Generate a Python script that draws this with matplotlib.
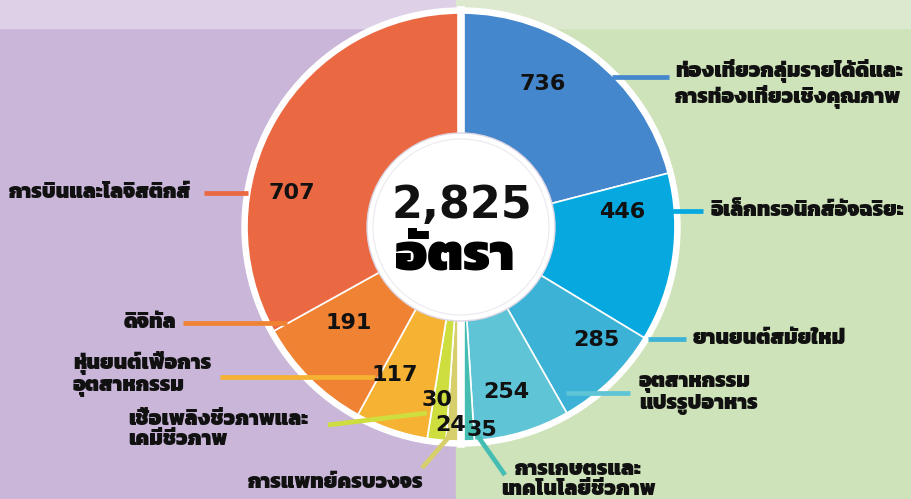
import matplotlib
matplotlib.use('Agg')
import matplotlib.pyplot as plt
from matplotlib.patches import Circle, Rectangle

plt.rcParams['font.family'] = ['Kanit', 'DejaVu Sans']

# data: right half (clockwise from 12 o'clock), then left half
right_labels = ['ท่องเที่ยวกลุ่มรายได้ดีและ\nการท่องเที่ยวเชิงคุณภาพ', 'อิเล็กทรอนิกส์อัจฉริยะ',
                'ยานยนต์สมัยใหม่', 'อุตสาหกรรม\nแปรรูปอาหาร', 'การเกษตรและ\nเทคโนโลยีชีวภาพ']
right_values = [736, 446, 285, 254, 35]
right_colors = ['#4487cc', '#05a9e0', '#3cb3d6', '#5ec4d6', '#45bdb3']

left_labels = ['การแพทย์ครบวงจร', 'เชื้อเพลิงชีวภาพและ\nเคมีชีวภาพ', 'หุ่นยนต์เพื่อการ\nอุตสาหกรรม',
               'ดิจิทัล', 'การบินและโลจิสติกส์']
left_values = [24, 30, 117, 191, 707]
left_colors = ['#d6cf6c', '#cede3e', '#f5b233', '#f08233', '#eb6942']

total = sum(right_values) + sum(left_values)
center_unit = 'อัตรา'

W, H = 912, 499
CX, CY = 461, 227
R_OUT, R_IN = 214, 93

# each half of the ring is scaled on its own
weights = [v / sum(right_values) for v in right_values] + [v / sum(left_values) for v in left_values]
colors = right_colors + left_colors

fig = plt.figure(figsize=(W / 100, H / 100), dpi=100)
ax = fig.add_axes([0, 0, 1, 1])

# background
ax.add_patch(Rectangle((0, 0), 456, H, color='#c9b6d9', zorder=0))
ax.add_patch(Rectangle((456, 0), W - 456, H, color='#cee3b9', zorder=0))
ax.add_patch(Rectangle((0, 0), 456, 28, color='#ddd0e7', zorder=0))
ax.add_patch(Rectangle((456, 0), W - 456, 28, color='#dde9cf', zorder=0))

ax.add_patch(Circle((CX, CY), R_OUT + 5, color='white', zorder=1))
# y axis is inverted below, so counterclock=True runs clockwise on screen
ax.pie(weights, colors=colors, center=(CX, CY), radius=R_OUT, startangle=-90, counterclock=True,
       wedgeprops=dict(width=R_OUT - R_IN, edgecolor='white', linewidth=1.2))
ax.plot([CX, CX], [CY - R_OUT - 3, CY + R_OUT + 3], color='white', lw=5.5, zorder=3)
ax.add_patch(Circle((CX, CY), R_IN + 1, facecolor='white', edgecolor='#dcd6e4', lw=1, zorder=4))
ax.add_patch(Circle((CX, CY), R_IN - 5, facecolor='white', edgecolor='#ece8f0', lw=0.8, zorder=4))

num_font = dict(family='DejaVu Sans', fontweight='bold', color='#111111')
ax.text(CX + 1, 205, f'{total:,}', ha='center', va='center', fontsize=32, zorder=5, **num_font)
ax.text(CX - 6, 257, center_unit, ha='center', va='center', fontsize=38, fontweight=900,
        color='black', zorder=5)

# layout: number position, leader line, label anchor
right_layout = [
    dict(num=(543, 84), line=[(612, 77), (669, 77)], lab=(675, 84), ha='left'),
    dict(num=(622, 212), line=[(656, 211), (703, 211)], lab=(711, 211), ha='left'),
    dict(num=(596, 340), line=[(648, 339), (686, 339)], lab=(693, 339), ha='left'),
    dict(num=(506, 392), line=[(566, 393), (630, 393)], lab=(639, 395), ha='left'),
    dict(num=(482, 430), line=[(470, 425), (505, 475)], lab=(578, 480), ha='center'),
]
left_layout = [
    dict(num=(451, 425), line=[(453, 420), (448, 438), (422, 468)], lab=(336, 483), ha='center'),
    dict(num=(437, 400), line=[(427, 413), (328, 425)], lab=(128, 430), ha='left'),
    dict(num=(395, 375), line=[(375, 377), (220, 377)], lab=(73, 374), ha='left'),
    dict(num=(349, 323), line=[(287, 323), (183, 323)], lab=(176, 323), ha='right'),
    dict(num=(292, 193), line=[(248, 193), (204, 193)], lab=(191, 193), ha='right'),
]

for labels, values, cols, layout in [(right_labels, right_values, right_colors, right_layout),
                                     (left_labels, left_values, left_colors, left_layout)]:
    for lab, val, col, lay in zip(labels, values, cols, layout):
        xs, ys = zip(*lay['line'])
        ax.plot(xs, ys, color=col, lw=3.4, solid_capstyle='butt', zorder=5)
        ax.text(*lay['num'], str(val), ha='center', va='center', fontsize=16, zorder=6, **num_font)
        ax.text(*lay['lab'], lab, ha=lay['ha'], va='center', fontsize=15, fontweight=900,
                color='#111111', linespacing=1.1, multialignment=lay['ha'], zorder=6)

ax.set_xlim(0, W)
ax.set_ylim(H, 0)
ax.set_aspect('equal')
ax.axis('off')

fig.savefig('out.png', dpi=100)
